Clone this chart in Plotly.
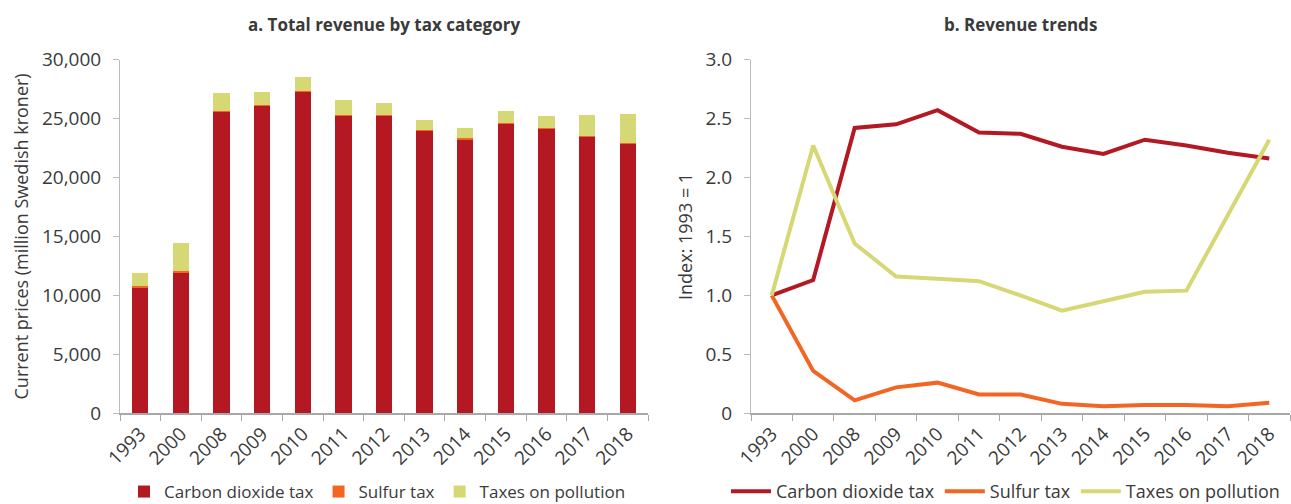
import plotly.graph_objects as go

# Years shown on both panels
YEARS = ["1993", "2000", "2008", "2009", "2010", "2011", "2012",
         "2013", "2014", "2015", "2016", "2017", "2018"]

# Panel a: revenue in million Swedish kroner (current prices)
CO2_REVENUE = [10600, 12000, 25600, 26100, 27300, 25300, 25300,
               24000, 23300, 24600, 24200, 23500, 22900]
SULFUR_REVENUE = [180, 70, 22, 44, 52, 32, 32, 15, 12, 14, 14, 12, 16]
POLLUTION_REVENUE = [1100, 2400, 1500, 1140, 1135, 1240, 985,
                     830, 920, 1000, 1000, 1770, 2440]

# Panel b: revenue index, 1993 = 1
CO2_INDEX = [1.0, 1.13, 2.42, 2.45, 2.57, 2.38, 2.37, 2.26, 2.20, 2.32, 2.27, 2.21, 2.16]
SULFUR_INDEX = [1.0, 0.36, 0.11, 0.22, 0.26, 0.16, 0.16, 0.08, 0.06, 0.07, 0.07, 0.06, 0.09]
POLLUTION_INDEX = [1.0, 2.27, 1.44, 1.16, 1.14, 1.12, 1.0, 0.87, 0.95, 1.03, 1.04, 1.68, 2.32]

SERIES_NAMES = ["Carbon dioxide tax", "Sulfur tax", "Taxes on pollution"]
COLORS = ["#B41822", "#F26522", "#D5D874"]

LEFT_TICKS = [0, 5000, 10000, 15000, 20000, 25000, 30000]
LEFT_TICKTEXT = ["0", "5,000", "10,000", "15,000", "20,000", "25,000", "30,000"]
RIGHT_TICKS = [0, 0.5, 1.0, 1.5, 2.0, 2.5, 3.0]
RIGHT_TICKTEXT = ["0", "0.5", "1.0", "1.5", "2.0", "2.5", "3.0"]

FONT = "Open Sans"
TEXT = "#3a3a3a"
AXIS = "#a8a8a8"

fig = go.Figure()

for name, values, color in zip(SERIES_NAMES,
                               [CO2_REVENUE, SULFUR_REVENUE, POLLUTION_REVENUE],
                               COLORS):
    fig.add_trace(go.Bar(x=YEARS, y=values, name=name, marker_color=color,
                         marker_line_width=0, xaxis="x", yaxis="y",
                         legend="legend"))

for name, values, color in zip(SERIES_NAMES,
                               [CO2_INDEX, SULFUR_INDEX, POLLUTION_INDEX],
                               COLORS):
    fig.add_trace(go.Scatter(x=YEARS, y=values, name=name, mode="lines",
                             line=dict(color=color, width=4),
                             xaxis="x2", yaxis="y2", legend="legend2"))

W, H = 1291, 504
x1 = [120 / W, 648 / W]
x2 = [751 / W, 1290 / W]
ydom = [(H - 413.3) / H, (H - 59.5) / H]
cat_range = [-0.5, len(YEARS) - 0.5]

common_x = dict(type="category", range=cat_range, tickson="boundaries",
                ticks="outside", ticklen=6, tickcolor=AXIS, showline=True,
                linecolor=AXIS, linewidth=2, showgrid=False, tickangle=-45,
                tickfont=dict(family=FONT, size=19, color=TEXT),
                automargin=False)
common_y = dict(ticks="outside", ticklen=6, tickcolor="#bbbbbb",
                showline=True, linecolor="#bbbbbb", linewidth=1,
                showgrid=False, zeroline=False, ticklabelstandoff=8,
                tickfont=dict(family=FONT, size=19, color=TEXT),
                automargin=False)

fig.update_layout(
    width=W, height=H,
    margin=dict(l=0, r=0, t=0, b=0, autoexpand=False),
    plot_bgcolor="white", paper_bgcolor="white",
    barmode="stack", bargap=0.6,
    font=dict(family=FONT, color=TEXT),
    xaxis=dict(domain=x1, anchor="y", **common_x),
    yaxis=dict(domain=ydom, anchor="x", range=[0, 30000],
               tickvals=LEFT_TICKS, ticktext=LEFT_TICKTEXT,
               title=dict(text="Current prices (million Swedish kroner)",
                          font=dict(family=FONT, size=18, color=TEXT),
                          standoff=8),
               **common_y),
    xaxis2=dict(domain=x2, anchor="y2", **common_x),
    yaxis2=dict(domain=ydom, anchor="x2", range=[0, 3],
                tickvals=RIGHT_TICKS, ticktext=RIGHT_TICKTEXT,
                title=dict(text="Index: 1993 = 1",
                           font=dict(family=FONT, size=18, color=TEXT),
                           standoff=8),
                **common_y),
    legend=dict(orientation="h", x=124 / W, xanchor="left",
                y=(H - 474) / H, yanchor="top", traceorder="normal",
                font=dict(family=FONT, size=17, color=TEXT),
                bgcolor="rgba(0,0,0,0)"),
    legend2=dict(orientation="h", x=726 / W, xanchor="left",
                 y=(H - 473) / H, yanchor="top", traceorder="normal",
                 itemwidth=40,
                 font=dict(family=FONT, size=18, color=TEXT),
                 bgcolor="rgba(0,0,0,0)"),
    annotations=[
        dict(text="<b>a. Total revenue by tax category</b>", x=sum(x1) / 2,
             xanchor="center", y=(H - 24) / H, yanchor="middle",
             xref="paper", yref="paper", showarrow=False,
             font=dict(family=FONT, size=17, color=TEXT)),
        dict(text="<b>b. Revenue trends</b>", x=sum(x2) / 2,
             xanchor="center", y=(H - 24) / H, yanchor="middle",
             xref="paper", yref="paper", showarrow=False,
             font=dict(family=FONT, size=17, color=TEXT)),
    ],
)

fig.write_html("out.html")
